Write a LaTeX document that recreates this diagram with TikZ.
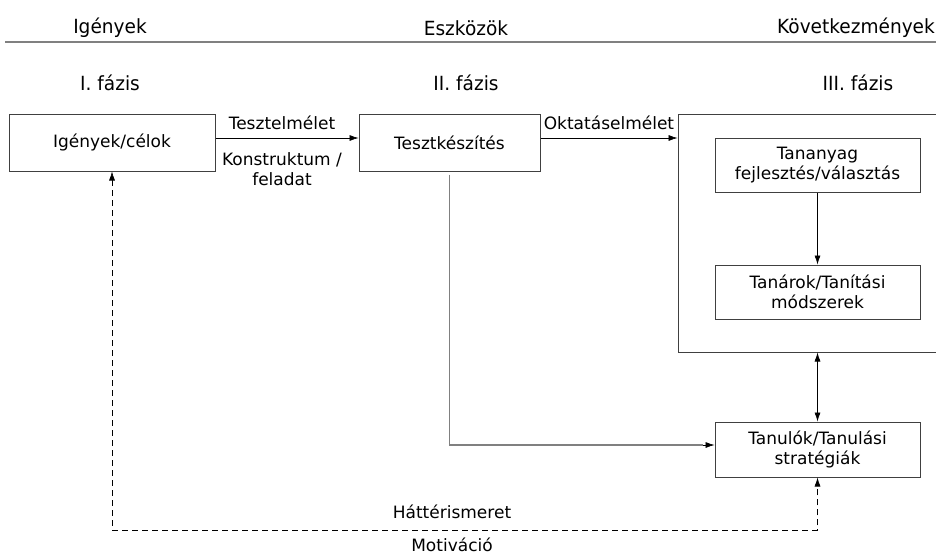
\documentclass[tikz,border=0pt]{standalone}
\usepackage{fontspec}
\setmainfont{DejaVu Sans}
\newfontfamily\fejbetu[FakeStretch=0.95]{DejaVu Sans}
\usepackage{tikz}
\usetikzlibrary{arrows.meta,positioning}

\tikzset{
  doboz/.style={draw=black!75, line width=1pt, rectangle, inner sep=0pt, align=center},
  nyil/.style={-{Latex[length=9pt,width=6pt]}, line width=0.6pt},
  ketnyil/.style={{Latex[length=9pt,width=6pt]}-{Latex[length=9pt,width=6pt]}, line width=0.6pt},
  szurke/.style={draw=black!50, line width=1.6pt},
  cimke/.style={inner sep=0pt, align=center},
  fej/.style={inner sep=0pt, font=\fejbetu\fontsize{19.5}{22}\selectfont}
}

\begin{document}
\begin{tikzpicture}[x=1pt,y=-1pt,font=\fontsize{17}{20}\selectfont]
\useasboundingbox (0,0) rectangle (936,555);
% fejlec
\node[fej] (igenyek) at (110,28) {Igények};
\node[fej] (eszkozok) at (466,28) {Eszközök};
\node[fej] (kovetk) at (856,28) {Következmények};
\draw[szurke] (5,42) -- (940,42);
\node[fej] (fazis1) at (110,83) {I. fázis};
\node[fej] (fazis2) at (466,83) {II. fázis};
\node[fej] (fazis3) at (858,83) {III. fázis};
% dobozok
\node[doboz, minimum width=206pt, minimum height=57pt] (igeny) at (112,142.5) {Igények/célok};
\node[doboz, minimum width=181pt, minimum height=57pt] (teszt) at (449.5,142.5) {Tesztkészítés};
\node[doboz, minimum width=262pt, minimum height=238pt] (harmadik) at (809,233) {};
\node[doboz, minimum width=205pt, minimum height=54pt] (tananyag) at (817.5,165) {Tananyag\\fejlesztés/választás};
\node[doboz, minimum width=205pt, minimum height=54pt] (tanar) at (817.5,292) {Tanárok/Tanítási\\módszerek};
\node[doboz, minimum width=205pt, minimum height=55pt] (tanulo) at (817.5,449.5) {Tanulók/Tanulási\\stratégiák};
% nyilak
\draw[nyil] ([yshift=4.5pt]igeny.east) -- ([yshift=4.5pt]teszt.west);
\node[cimke] (tesztelm) at (282,123) {Tesztelmélet};
\node[cimke, anchor=north] (konstr) at (282,152) {Konstruktum /\\feladat};
\draw[nyil] ([yshift=4.5pt]teszt.east) -- ([yshift=4.5pt]teszt.east -| harmadik.west);
\node[cimke] (oktatas) at (609,123) {Oktatáselmélet};
\draw[nyil] (tananyag) -- (tanar);
\draw[ketnyil] (tanulo.north |- harmadik.south) -- (tanulo.north);
\coordinate (kanyar) at ([yshift=4.5pt,xshift=-12pt]tanulo.west);
\draw[szurke] ([yshift=-3pt]teszt.south) |- (kanyar);
\draw[nyil] (kanyar) -- (kanyar -| tanulo.west);
% hatterismeret
\coordinate (alap) at (0,530);
\draw[ketnyil, dash pattern=on 6pt off 4pt] (igeny.south) -- (igeny.south |- alap) -| (tanulo.south);
\node[cimke] (hatter) at (452,512) {Háttérismeret};
\node[cimke] (motiv) at (452,545) {Motiváció};
\end{tikzpicture}
\end{document}
